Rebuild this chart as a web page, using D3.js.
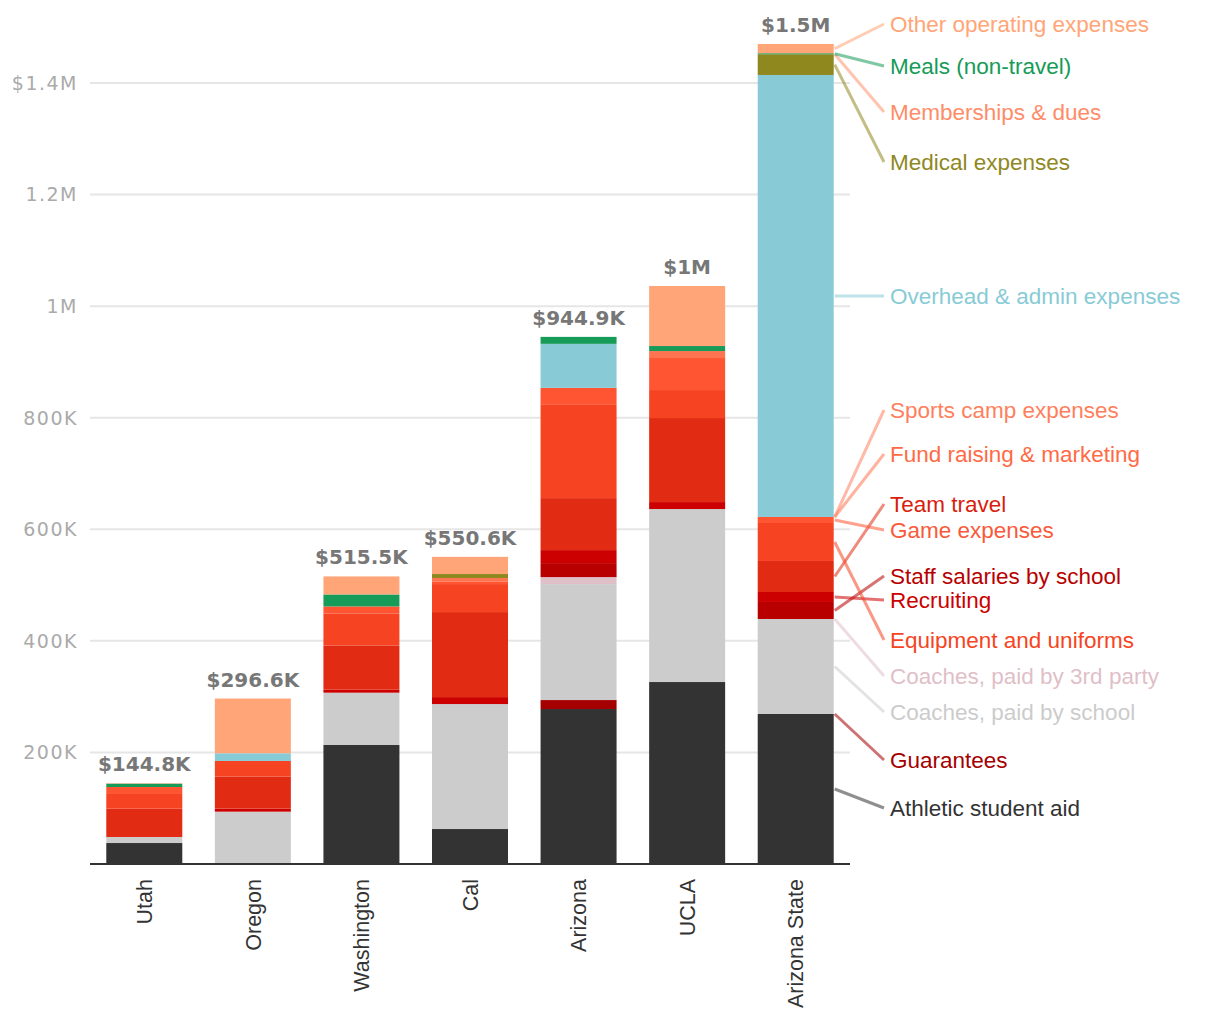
<!DOCTYPE html>
<html><head><meta charset="utf-8">
<script src="https://cdn.jsdelivr.net/npm/d3@7"></script>
<style>body{margin:0;background:#fff}</style></head>
<body><svg id="chart" width="1220" height="1020"></svg>
<script>
// ---- data (values in thousands of dollars) ----
const schools = ["Utah","Oregon","Washington","Cal","Arizona","UCLA","Arizona State"];
const categories = ["Athletic student aid","Guarantees","Coaches, paid by school","Coaches, paid by 3rd party","Staff salaries by school","Recruiting","Team travel","Equipment and uniforms","Game expenses","Fund raising & marketing","Sports camp expenses","Overhead & admin expenses","Medical expenses","Memberships & dues","Meals (non-travel)","Other operating expenses"];
const athleticAid   = [37.6, 0, 213.3, 62.7, 277.8, 326.2, 268.9];
const guarantees    = [0, 0, 0, 0, 16.1, 0, 0];
const coachesSchool = [10.8, 93.8, 93.8, 224.0, 207.9, 310.1, 170.3];
const coachesThird  = [0, 0, 0, 0, 12.5, 0, 0];
const staffSalaries = [0, 0, 0, 0, 25.1, 0, 30.5];
const recruiting    = [0, 5.4, 5.4, 12.5, 23.3, 12.5, 17.9];
const teamTravel    = [50.8, 57.4, 79.3, 152.4, 93.2, 150.6, 55.6];
const equipment     = [26.3, 28.1, 57.4, 50.2, 167.1, 50.2, 68.1];
const gameExpenses  = [12.5, 0, 12.5, 4.8, 30.5, 57.4, 10.8];
const fundRaising   = [0, 0, 0, 6.0, 0, 12.5, 0];
const sportsCamp    = [0, 0, 0, 0, 0, 0, 0];
const overhead      = [0, 13.8, 0, 0, 78.9, 0, 792.3];
const medical       = [0, 0, 0, 7.2, 0, 0, 37.1];
const memberships   = [0, 0, 0, 0, 0, 0, 0];
const meals         = [6.0, 0, 21.5, 0, 12.5, 9.0, 1.8];
const otherOps      = [0.8, 98.1, 32.3, 30.8, 0, 107.6, 16.7];
const tickValues = [200, 400, 600, 800, 1000, 1200, 1400];
const tickLabels = ["200K","400K","600K","800K","1M","1.2M","$1.4M"];

// ---- styles ----
const colors = ["#333333","#a50000","#cccccc","#dfbfc8","#b80000","#cc0000","#e12b12","#f64423","#ff5533","#ff7450","#ff8060","#88cbd6","#8f881f","#ff9470","#169b58","#ffa577"];
const labelColors = ["#333333","#a50000","#cccccc","#dfbfc8","#b80000","#cc0000","#d81e0e","#f64423","#f85a3a","#ff6a45","#ff7f5c","#88cbd6","#8f881f","#ff8c69","#169b58","#ffa577"];
// legend label vertical centres (layout)
const legendY = [808, 760, 712, 676, 576, 600, 504, 640, 530, 454, 410, 296, 162, 112, 66, 24];

const seriesArrays = [athleticAid, guarantees, coachesSchool, coachesThird, staffSalaries, recruiting, teamTravel, equipment, gameExpenses, fundRaising, sportsCamp, overhead, medical, memberships, meals, otherOps];
const table = schools.map((s, i) => {
  const row = {school: s};
  categories.forEach((c, k) => row[c] = seriesArrays[k][i]);
  return row;
});

const svg = d3.select("#chart");
const x = d3.scaleBand().domain(schools).range([90, 850]).paddingInner(0.3).paddingOuter(0.15);
const y = d3.scaleLinear().domain([0, 1400]).range([864, 83]);

// gridlines
svg.append("g").selectAll("line").data(tickValues).join("line")
  .attr("x1", 90).attr("x2", 850)
  .attr("y1", d => y(d)).attr("y2", d => y(d))
  .attr("stroke", "#e6e6e6").attr("stroke-width", 2);

// y labels
svg.append("g").selectAll("text").data(tickValues).join("text")
  .attr("x", 78).attr("y", d => y(d)).attr("dy", "0.36em")
  .attr("text-anchor", "end")
  .attr("font-family", "DejaVu Sans").attr("font-size", 19).attr("letter-spacing", 1.5)
  .attr("fill", "#aaaaaa")
  .text((d, i) => tickLabels[i]);

const stack = d3.stack().keys(categories)(table);

svg.append("g").selectAll("g").data(stack).join("g")
  .attr("fill", (d, i) => colors[i])
  .selectAll("rect").data(d => d).join("rect")
  .attr("x", d => x(d.data.school))
  .attr("width", x.bandwidth())
  .attr("y", d => y(d[1]))
  .attr("height", d => Math.max(0, y(d[0]) - y(d[1])));

// baseline
svg.append("line").attr("x1", 90).attr("x2", 850).attr("y1", 864).attr("y2", 864)
  .attr("stroke", "#333").attr("stroke-width", 2);

// totals
const totals = table.map(r => categories.reduce((a, c) => a + r[c], 0));
const fmtTotal = t => t >= 1000 ? "$" + d3.format(".2~r")(t / 1000) + "M" : "$" + d3.format(".1f")(t) + "K";
svg.append("g").selectAll("text").data(schools).join("text")
  .attr("x", d => x(d) + x.bandwidth() / 2)
  .attr("y", (d, i) => y(totals[i]) - 12)
  .attr("text-anchor", "middle")
  .attr("font-family", "DejaVu Sans").attr("font-weight", "bold").attr("font-size", 20)
  .attr("fill", "#777777")
  .text((d, i) => fmtTotal(totals[i]));

// x labels
svg.append("g").selectAll("text").data(schools).join("text")
  .attr("transform", d => `translate(${x(d) + x.bandwidth() / 2},879) rotate(-90)`)
  .attr("dy", "0.36em")
  .attr("text-anchor", "end")
  .attr("font-family", "Liberation Sans").attr("font-size", 21.5)
  .attr("fill", "#333333")
  .text(d => d);

// legend with leader lines from last bar
const last = schools[schools.length - 1];
const lastIdx = schools.length - 1;
const barRight = x(last) + x.bandwidth();
const lg = svg.append("g");
stack.forEach((s, k) => {
  const seg = s[lastIdx];
  const mid = (y(seg[0]) + y(seg[1])) / 2;
  lg.append("line")
    .attr("x1", barRight + 1).attr("y1", mid)
    .attr("x2", 884).attr("y2", legendY[k])
    .attr("stroke", colors[k]).attr("stroke-opacity", 0.55).attr("stroke-width", 3);
  lg.append("text")
    .attr("x", 890).attr("y", legendY[k]).attr("dy", "0.36em")
    .attr("font-family", "Liberation Sans").attr("font-size", 22.5)
    .attr("fill", labelColors[k])
    .text(categories[k]);
});
</script>
</body></html>
